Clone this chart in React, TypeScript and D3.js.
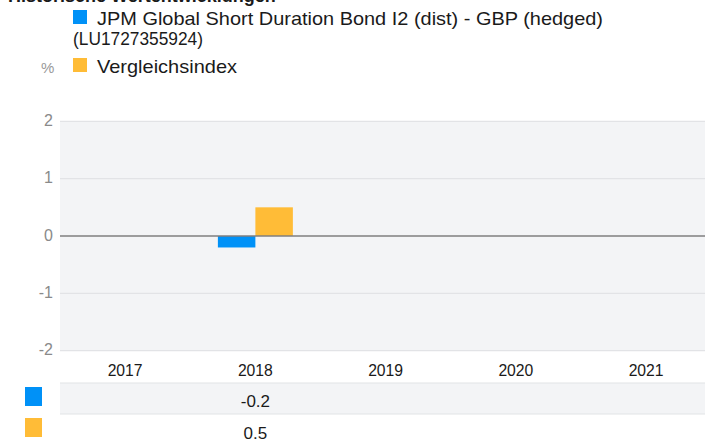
import React, { useEffect, useRef } from "react";
import * as d3 from "d3";

const years = ["2017", "2018", "2019", "2020", "2021"];
const seriesNames = [
  "JPM Global Short Duration Bond I2 (dist) - GBP (hedged) (LU1727355924)",
  "Vergleichsindex",
];
const fundValues: (number | null)[] = [null, -0.2, null, null, null];
const indexValues: (number | null)[] = [null, 0.5, null, null, null];
const yTicks = [-2, -1, 0, 1, 2];
const colors = ["#0091F7", "#FFBC37"];
const title = "Historische Wertentwicklungen";

export default function App() {
  const ref = useRef<SVGSVGElement>(null);
  useEffect(() => {
    const svg = d3.select(ref.current);
    svg.selectAll("*").remove();
    const W = 705;
    const left = 60, right = 711.25, top = 121.3, bottom = 350.7;
    const font = "'Liberation Sans', Arial, sans-serif";

    const x0 = d3.scaleBand<string>().domain(years).range([left, right]).padding(0);
    const x1 = d3.scaleBand<string>().domain(["fund", "index"]).range([0, x0.bandwidth()]).paddingInner(0).paddingOuter(0.737);
    const y = d3.scaleLinear().domain([-2, 2]).range([bottom, top]);

    // title (cut off at top edge as in reference)
    svg.append("text").attr("x", 8).attr("y", 2).attr("font-family", font).attr("font-weight", "bold")
      .attr("font-size", 18).attr("fill", "#1a1a1a").text(title);

    // legend
    svg.append("rect").attr("x", 73).attr("y", 10).attr("width", 14).attr("height", 14).attr("fill", colors[0]);
    svg.append("text").attr("x", 97).attr("y", 25).attr("font-family", font).attr("font-size", 19)
      .attr("fill", "#1a1a1a").attr("textLength", 506).attr("lengthAdjust", "spacingAndGlyphs")
      .text("JPM Global Short Duration Bond I2 (dist) - GBP (hedged)");
    svg.append("text").attr("x", 73).attr("y", 45).attr("font-family", font).attr("font-size", 19)
      .attr("fill", "#1a1a1a").attr("textLength", 130).attr("lengthAdjust", "spacingAndGlyphs")
      .text("(LU1727355924)");
    svg.append("rect").attr("x", 73).attr("y", 58).attr("width", 14).attr("height", 14).attr("fill", colors[1]);
    svg.append("text").attr("x", 97).attr("y", 73).attr("font-family", font).attr("font-size", 19)
      .attr("fill", "#1a1a1a").attr("textLength", 140).attr("lengthAdjust", "spacingAndGlyphs")
      .text("Vergleichsindex");
    svg.append("text").attr("x", 41).attr("y", 73).attr("font-family", font).attr("font-size", 15)
      .attr("fill", "#999").text("%");

    // plot background
    svg.append("rect").attr("x", left).attr("y", top).attr("width", W - left).attr("height", bottom - top).attr("fill", "#F3F4F6");
    // grid
    yTicks.forEach(t => {
      if (t !== 0) {
        svg.append("line").attr("x1", left).attr("x2", W).attr("y1", y(t)).attr("y2", y(t))
          .attr("stroke", "#E2E3E6").attr("stroke-width", 1.2);
      }
      svg.append("text").attr("x", 53).attr("y", y(t) + 4.5).attr("text-anchor", "end")
        .attr("font-family", font).attr("font-size", 16).attr("fill", "#8a8a8a").text(String(t));
    });

    // bars
    const data = years.map((yr, i) => ({ yr, vals: [fundValues[i], indexValues[i]] }));
    data.forEach(d => {
      ["fund", "index"].forEach((k, j) => {
        const v = d.vals[j];
        if (v == null) return;
        svg.append("rect")
          .attr("x", (x0(d.yr) as number) + (x1(k) as number))
          .attr("width", x1.bandwidth())
          .attr("y", y(Math.max(0, v)))
          .attr("height", Math.abs(y(v) - y(0)))
          .attr("fill", colors[j]);
      });
    });
    // zero line
    svg.append("line").attr("x1", left).attr("x2", W).attr("y1", y(0)).attr("y2", y(0))
      .attr("stroke", "#7f7f7f").attr("stroke-width", 1.3);

    // year labels
    years.forEach(yr => {
      svg.append("text").attr("x", (x0(yr) as number) + x0.bandwidth() / 2).attr("y", 375.5)
        .attr("text-anchor", "middle").attr("font-family", font).attr("font-size", 17)
        .attr("textLength", 35).attr("lengthAdjust", "spacingAndGlyphs")
        .attr("fill", "#1a1a1a").text(yr);
    });

    // table
    svg.append("rect").attr("x", left).attr("y", 383).attr("width", W - left).attr("height", 31).attr("fill", "#F3F4F6");
    [383, 414].forEach(yy => {
      svg.append("line").attr("x1", left).attr("x2", W).attr("y1", yy).attr("y2", yy).attr("stroke", "#E2E3E6").attr("stroke-width", 1.2);
    });
    svg.append("rect").attr("x", 25).attr("y", 387).attr("width", 17).attr("height", 19).attr("fill", colors[0]);
    svg.append("rect").attr("x", 25).attr("y", 418).attr("width", 17).attr("height", 19).attr("fill", colors[1]);
    [fundValues, indexValues].forEach((arr, j) => {
      arr.forEach((v, i) => {
        if (v == null) return;
        svg.append("text").attr("x", (x0(years[i]) as number) + x0.bandwidth() / 2).attr("y", j === 0 ? 407 : 439)
          .attr("text-anchor", "middle").attr("font-family", font).attr("font-size", 17)
          .attr("fill", "#1a1a1a").text(String(v));
      });
    });
  }, []);
  return (
    <svg ref={ref} width={705} height={446} style={{ position: "absolute", left: 0, top: 0, background: "#fff" }} />
  );
}
